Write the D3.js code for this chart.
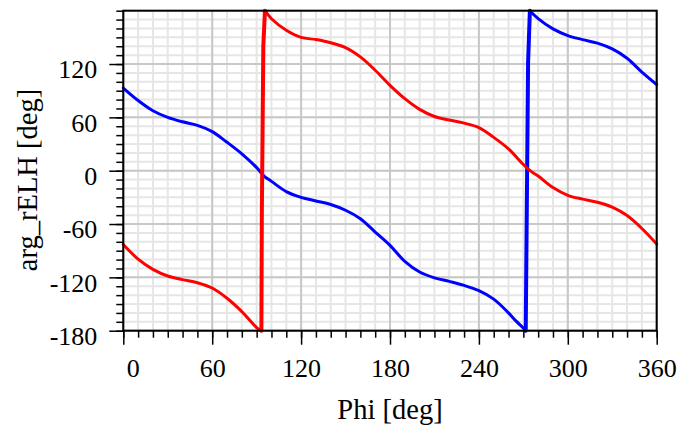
<!DOCTYPE html>
<html>
<head>
<meta charset="utf-8">
<script src="https://cdn.jsdelivr.net/npm/d3@7"></script>
<style>
  html, body { margin: 0; padding: 0; background: #fff; }
  svg { display: block; }
  text { font-family: "Liberation Serif", "Times New Roman", serif; fill: #000; }
</style>
</head>
<body>
<svg id="chart" width="681" height="428"></svg>
<script>
// Phase of rELH versus Phi, two branches (blue and red), wrapped to [-180, 180]
const phiBlue = [0, 10, 20, 30, 40, 50, 60, 70, 80, 90, 95, 100, 110, 120, 130, 140, 150, 160, 170, 180,
  190, 200, 210, 220, 230, 240, 250, 260, 265, 270, 271.6, 272.2, 273.2, 274.4,
  280, 290, 300, 310, 320, 330, 340, 350, 360];
const argBlue = [93, 79, 67.5, 60, 55, 51, 44, 32, 19, 3.5, -6, -12, -23.5, -30, -34, -38, -44.5, -54, -69, -84,
  -102, -114, -120.5, -124.5, -129, -135, -144.5, -160, -169, -177, -180, -66, 122, 180,
  171, 159.5, 152, 147.5, 143.5, 137, 126.5, 111, 97];

const phiRed = [0, 10, 20, 30, 40, 50, 60, 70, 80, 90, 93.2, 93.5, 94.5, 95.6,
  100, 110, 120, 130, 140, 150, 160, 170, 180, 190, 200, 210, 220, 230, 240, 250, 260, 270, 275,
  280, 290, 300, 310, 320, 330, 340, 350, 360];
const argRed = [-83, -99.5, -111, -118.5, -122.5, -126, -132, -143.5, -158.5, -176.5, -180, -48, 140, 180,
  171, 158, 150, 147.5, 144, 138.5, 128, 113, 96, 81, 69, 61, 57, 53.5, 48.5, 37.5, 24.5, 7, -0.5,
  -6, -19, -27.7, -32, -35.5, -41, -50.5, -65, -82.5];

const xMajorTicks = [0, 60, 120, 180, 240, 300, 360];
const yMajorTicks = [-180, -120, -60, 0, 60, 120];
const xMinorStep = 10;
const yMinorStep = 10;
const xTitle = "Phi [deg]";
const yTitle = "arg_rELH [deg]";

const svg = d3.select("#chart");
const plotLeft = 123.3, plotRight = 656.7, plotTop = 10.7, plotBottom = 330.7;

const x = d3.scaleLinear().domain([0, 360]).range([plotLeft, plotRight]);
const y = d3.scaleLinear().domain([-180, 180]).range([plotBottom, plotTop]);

const xMinor = d3.range(0, 360 + 0.1, xMinorStep);
const yMinor = d3.range(-180, 180 + 0.1, yMinorStep);

// grid: light minor lines, then darker major lines
const grid = svg.append("g");
grid.selectAll("line.xm").data(xMinor).join("line")
  .attr("x1", d => x(d)).attr("x2", d => x(d))
  .attr("y1", plotTop).attr("y2", plotBottom)
  .attr("stroke", "#e6e6e6").attr("stroke-width", 2);
grid.selectAll("line.ym").data(yMinor).join("line")
  .attr("y1", d => y(d)).attr("y2", d => y(d))
  .attr("x1", plotLeft).attr("x2", plotRight)
  .attr("stroke", "#e6e6e6").attr("stroke-width", 2);
grid.selectAll("line.xM").data(xMajorTicks).join("line")
  .attr("x1", d => x(d)).attr("x2", d => x(d))
  .attr("y1", plotTop).attr("y2", plotBottom)
  .attr("stroke", "#c8c8c8").attr("stroke-width", 2);
grid.selectAll("line.yM").data(yMajorTicks).join("line")
  .attr("y1", d => y(d)).attr("y2", d => y(d))
  .attr("x1", plotLeft).attr("x2", plotRight)
  .attr("stroke", "#c8c8c8").attr("stroke-width", 2);

// axes: minor ticks, major ticks with labels (plain hyphen for negatives)
const plain = d => String(d);
const xMinorAxis = d3.axisBottom(x).tickValues(xMinor).tickSize(7).tickFormat("");
const xAxis = d3.axisBottom(x).tickValues(xMajorTicks).tickSize(14).tickPadding(14).tickFormat(plain);
const yMinorAxis = d3.axisLeft(y).tickValues(yMinor).tickSize(7).tickFormat("");
const yAxis = d3.axisLeft(y).tickValues(yMajorTicks).tickSize(14).tickPadding(12).tickFormat(plain);

function styleAxis(g) {
  g.select(".domain").remove();
  g.selectAll("line").attr("stroke", "#000").attr("stroke-width", 1.5);
  g.selectAll("text").attr("font-size", 26).attr("font-family", "Liberation Serif, Times New Roman, serif").attr("fill", "#000");
}

svg.append("g").attr("transform", `translate(0,${plotBottom})`).call(xMinorAxis).call(styleAxis);
const gx = svg.append("g").attr("transform", `translate(0,${plotBottom})`).call(xAxis).call(styleAxis);
svg.append("g").attr("transform", `translate(${plotLeft},0)`).call(yMinorAxis).call(styleAxis);
const gy = svg.append("g").attr("transform", `translate(${plotLeft},0)`).call(yAxis).call(styleAxis);
gy.selectAll("text").attr("dy", "0.53em");
// the "0" label on the x axis sits just right of the corner
gx.selectAll(".tick").filter(d => d === 0).select("text")
  .attr("text-anchor", "start").attr("x", 3);

// data lines: smooth branches, straight wrap-around jump from -180 to 180
const smooth = d3.line().x(d => x(d[0])).y(d => y(d[1])).curve(d3.curveCatmullRom.alpha(0.5));
const straight = d3.line().x(d => x(d[0])).y(d => y(d[1]));

function drawSeries(phi, arg, color) {
  const pts = d3.zip(phi, arg);
  const lo = arg.indexOf(-180), hi = arg.indexOf(180);
  const pieces = [
    [pts.slice(0, lo + 1), smooth, 3],
    [pts.slice(lo, hi + 1), straight, 4],
    [pts.slice(hi), smooth, 3]
  ];
  const g = svg.append("g");
  pieces.forEach(([p, gen, w]) => {
    g.append("path").datum(p).attr("d", gen)
      .attr("fill", "none").attr("stroke", color).attr("stroke-width", w)
      .attr("stroke-linejoin", "round").attr("stroke-linecap", "round");
  });
}
drawSeries(phiBlue, argBlue, "#0000ff");
drawSeries(phiRed, argRed, "#ff0000");

// plot frame
svg.append("rect").attr("x", plotLeft).attr("y", plotTop)
  .attr("width", plotRight - plotLeft).attr("height", plotBottom - plotTop)
  .attr("fill", "none").attr("stroke", "#000").attr("stroke-width", 2);

// axis titles
svg.append("text").attr("x", (plotLeft + plotRight) / 2).attr("y", 419)
  .attr("text-anchor", "middle").attr("font-size", 28.5).text(xTitle);
svg.append("text").attr("transform", "translate(36.5,180) rotate(-90)")
  .attr("text-anchor", "middle").attr("font-size", 28.5).text(yTitle);
</script>
</body>
</html>
